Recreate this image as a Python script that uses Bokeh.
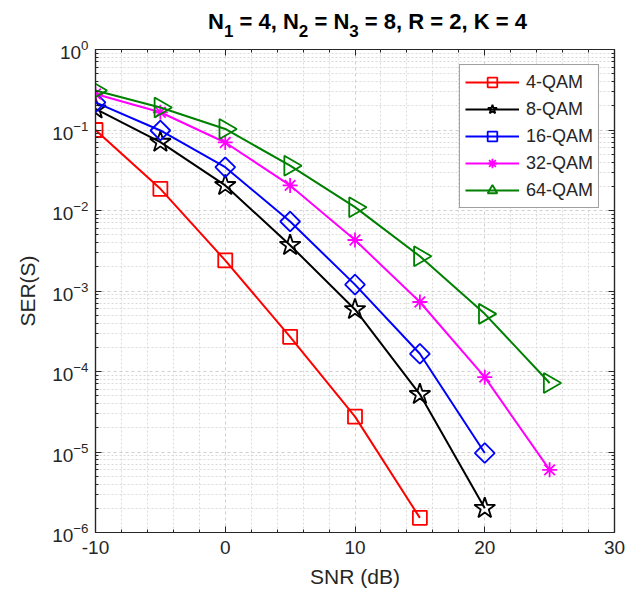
import numpy as np
from bokeh.plotting import figure
from bokeh.layouts import column
from bokeh.models import FixedTicker, LinearAxis, LogAxis, Legend, LegendItem, Range1d
from bokeh.core.properties import value
from bokeh.embed import file_html
from bokeh.resources import INLINE

# ---------------- data ----------------
snr = [-10, -5, 0, 5, 10, 15, 20, 25]
ser_4qam = [0.1, 0.0186, 0.0024, 2.7e-4, 2.75e-5, 1.52e-6]
ser_8qam = [0.183, 0.0706, 0.0205, 0.0037, 5.9e-4, 5.2e-5, 2.0e-6]
ser_16qam = [0.22, 0.0986, 0.0345, 0.0073, 0.0012, 1.66e-4, 9.7e-6]
ser_32qam = [0.28, 0.166, 0.07, 0.0205, 0.0043, 7.3e-4, 8.5e-5, 6.0e-6]
ser_64qam = [0.31, 0.19, 0.103, 0.036, 0.011, 0.0027, 5.2e-4, 7.2e-5]
series_labels = ["4-QAM", "8-QAM", "16-QAM", "32-QAM", "64-QAM"]
x_ticks = [-10, 0, 10, 20, 30]
x_tick_labels = {-10: "-10", 0: "0", 10: "10", 20: "20", 30: "30"}
x_minor = [v for v in range(-10, 31, 2) if v not in x_ticks]
y_ticks = [10.0 ** e for e in range(-6, 1)]
y_minor = [m * 10.0 ** e for e in range(-6, 0) for m in range(2, 10)]
title_pieces = [("N", "main"), ("1", "sub"), (" = 4, N", "main"), ("2", "sub"),
                (" = N", "main"), ("3", "sub"), (" = 8, R = 2, K = 4", "main")]

# ---------------- style ----------------
FONT = "Liberation Sans"
TXT = "#262626"
colors = ["#ff0000", "#000000", "#0000ff", "#ff00ff", "#008000"]
markers = [("square", 14, 0.0), ("star", 22, 0.0), ("square", 14, np.pi / 4),
           ("asterisk", 15, 0.0), ("triangle", 20, -np.pi / 2)]

TITLE_H = 39
FRAME_L, FRAME_R = 95, 614
p = figure(width=630, height=608 - TITLE_H, x_range=Range1d(-10, 30), y_range=Range1d(1e-6, 1),
           y_axis_type="log", output_backend="svg", toolbar_location=None,
           min_border_left=FRAME_L, min_border_right=630 - FRAME_R, min_border_top=49 - TITLE_H,
           min_border_bottom=76, background_fill_color="white", border_fill_color="white")
p.outline_line_color = TXT
p.outline_line_width = 1.2

xt = FixedTicker(ticks=x_ticks, minor_ticks=x_minor)
yt = FixedTicker(ticks=y_ticks, minor_ticks=y_minor)

# extra axes to make the box ticks
p.add_layout(LinearAxis(), "above")
p.add_layout(LogAxis(), "right")

for ax in p.axis:
    ax.axis_line_color = TXT
    ax.axis_line_width = 1.2
    ax.major_tick_line_color = TXT
    ax.minor_tick_line_color = TXT
    ax.major_tick_in = 6
    ax.major_tick_out = 0
    ax.minor_tick_in = 3
    ax.minor_tick_out = 0
    ax.major_label_text_font = FONT
    ax.major_label_text_color = TXT
    ax.major_label_text_font_size = "19px"
    ax.axis_label_text_font = FONT
    ax.axis_label_text_color = TXT
    ax.axis_label_text_font_size = "21px"
    ax.axis_label_text_font_style = "normal"

for ax in p.xaxis:
    ax.ticker = xt
for ax in p.yaxis:
    ax.ticker = yt

for ax in (p.above[0], p.right[0]):
    ax.major_label_text_font_size = "1px"
    ax.major_label_text_color = None
    ax.major_label_standoff = 0

p.below[0].major_label_overrides = x_tick_labels
p.below[0].major_label_standoff = 8
p.below[0].axis_label = "SNR (dB)"
p.below[0].axis_label_standoff = 8
p.left[0].major_label_standoff = 7
p.left[0].axis_label = "SER(S)"
p.left[0].axis_label_standoff = 10

for g, t in ((p.xgrid[0], xt), (p.ygrid[0], yt)):
    g.ticker = t
    g.grid_line_color = "#cfcfcf"
    g.grid_line_dash = "3 3"
    g.grid_line_width = 1
    g.minor_grid_line_color = "#dadada"
    g.minor_grid_line_dash = "2 2"
    g.minor_grid_line_width = 1

all_series = [ser_4qam, ser_8qam, ser_16qam, ser_32qam, ser_64qam]
items = []
for lab, ys, col, (mk, sz, ang) in zip(series_labels, all_series, colors, markers):
    xs = snr[:len(ys)]
    ln = p.line(xs, ys, line_color=col, line_width=2)
    sc = p.scatter(xs, ys, marker=mk, size=sz, angle=ang, line_color=col,
                   line_width=1.8, fill_alpha=0)
    items.append(LegendItem(label=lab, renderers=[ln, sc]))

legend = Legend(items=items, location="top_right", margin=15,
                label_text_font=FONT, label_text_font_size="18px", label_text_color=TXT,
                glyph_width=54, glyph_height=24, label_height=24, label_standoff=7,
                spacing=3, padding=5, border_line_color="#404040", border_line_width=1,
                background_fill_color="white", background_fill_alpha=1)
p.add_layout(legend)

# ---------------- title figure (text with subscripts) ----------------
# its frame is aligned by the column layout with the main frame (FRAME_L..FRAME_R),
# so the x range is expressed in page pixels over that span
tf = figure(width=630, height=TITLE_H, x_range=Range1d(FRAME_L, FRAME_R),
            y_range=Range1d(0, TITLE_H),
            output_backend="svg", toolbar_location=None,
            min_border_left=FRAME_L, min_border_right=630 - FRAME_R,
            min_border_top=0, min_border_bottom=0,
            x_axis_location=None, y_axis_location=None,
            background_fill_color="white", border_fill_color="white")
tf.grid.visible = False
tf.outline_line_color = None

W = {"N": 1479, " ": 569, "=": 1196, ",": 569, "R": 1479, "K": 1479}
for d in "0123456789":
    W[d] = 1139
sizes = {"main": 22, "sub": 17}
# vertical centre (px from the top of the page) of each kind of piece
mid_px = {"main": 21, "sub": 30}

def tw(t, s):
    return sum(W[c] for c in t) * s / 2048.0

center = 367.0
total = sum(tw(t, sizes[k]) for t, k in title_pieces)
cursor = center - total / 2.0
for t, k in title_pieces:
    s = sizes[k]
    stripped = t.lstrip(" ")
    cursor += tw(t[:len(t) - len(stripped)], s)
    tf.text(x=[cursor], y=[0], text=[stripped.rstrip(" ")],
            y_offset=mid_px[k] - TITLE_H,
            text_font=value(FONT), text_font_style="bold", text_font_size=value(f"{s}px"),
            text_color="#000000", text_align="left", text_baseline="middle")
    cursor += tw(stripped, s)

layout = column(tf, p, spacing=0)
open("out.html", "w").write(file_html(layout, INLINE))
